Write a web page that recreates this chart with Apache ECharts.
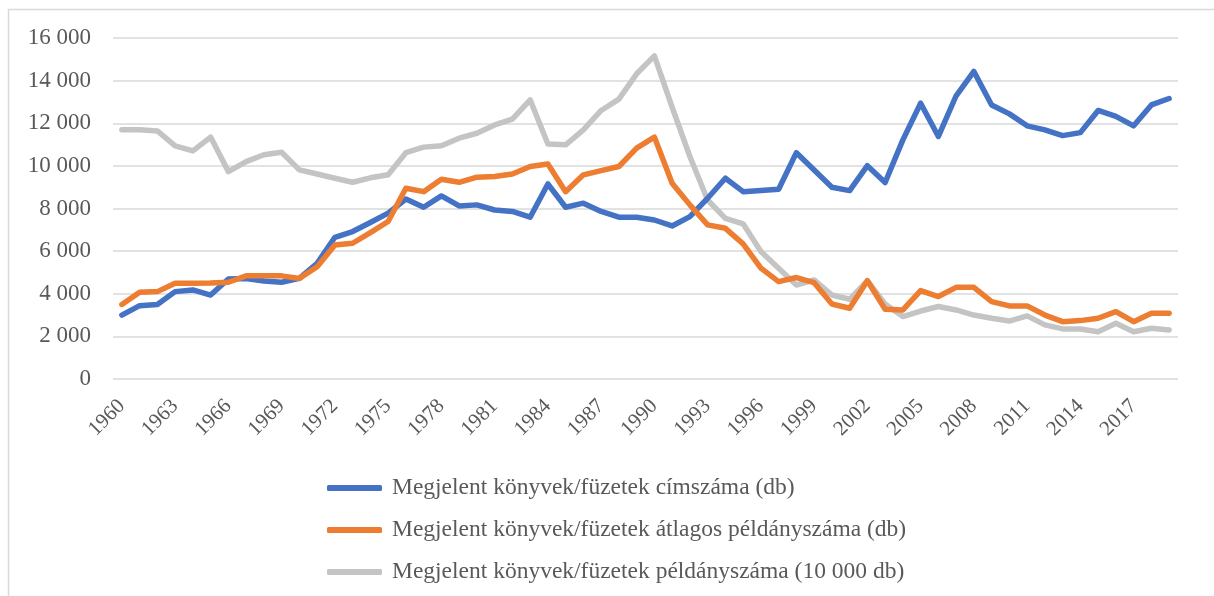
<!DOCTYPE html>
<html>
<head>
<meta charset="utf-8">
<script src="https://cdn.jsdelivr.net/npm/echarts@6/dist/echarts.min.js"></script>
<style>
  html, body { margin: 0; padding: 0; background: #fff; }
  #chart { width: 1214px; height: 596px; }
</style>
</head>
<body>
<div id="chart"></div>
<script>
// years 1960..2019
var years = [];
for (let y = 1960; y <= 2019; y++) { years.push(String(y)); }

// title counts (db)
var cimszam = [
  3000, 3440, 3500, 4100, 4180, 3940, 4690, 4720, 4600, 4540,
  4720, 5430, 6650, 6920, 7340, 7780, 8440, 8060, 8590, 8120,
  8170, 7930, 7860, 7590, 9150, 8060, 8250, 7860, 7590, 7590,
  7460, 7180, 7620, 8480, 9420, 8790, 8840, 8900, 10620, 9810,
  9000, 8840, 10010, 9220, 11220, 12940, 11380, 13290, 14430, 12860,
  12440, 11880, 11690, 11420, 11560, 12600, 12320, 11880, 12860, 13160
];
// average copies per title (db)
var atlagos = [
  3500, 4070, 4100, 4490, 4490, 4500, 4540, 4840, 4840, 4840,
  4720, 5270, 6290, 6370, 6870, 7390, 8950, 8790, 9370, 9230,
  9470, 9500, 9620, 9970, 10090, 8790, 9580, 9780, 9970, 10830,
  11350, 9190, 8170, 7230, 7070, 6340, 5200, 4570, 4760, 4520,
  3520, 3320, 4610, 3270, 3240, 4150, 3870, 4300, 4300, 3630,
  3430, 3430, 3000, 2690, 2740, 2850, 3160, 2690, 3080, 3080
];
// total copies (10 000 db)
var peldany = [
  11690, 11690, 11640, 10940, 10700, 11350, 9730, 10200, 10520, 10640,
  9810, 9620, 9420, 9230, 9440, 9580, 10620, 10880, 10940, 11300,
  11530, 11920, 12190, 13100, 11030, 10990, 11690, 12600, 13130, 14320,
  15160, 12750, 10440, 8400, 7540, 7280, 5980, 5200, 4410, 4650,
  3940, 3740, 4610, 3520, 2930, 3190, 3400, 3240, 3000, 2850,
  2720, 2960, 2540, 2350, 2350, 2220, 2620, 2220, 2380, 2300
];

var names = [
  'Megjelent könyvek/füzetek címszáma (db)',
  'Megjelent könyvek/füzetek átlagos példányszáma (db)',
  'Megjelent könyvek/füzetek példányszáma (10 000 db)'
];
var colors = ['#4472C4', '#ED7D31', '#C4C4C4'];

var font = '"Liberation Serif", "Times New Roman", serif';

function fmt(v) {
    // thousands separated with a space
    return String(v).replace(/\B(?=(\d{3})+(?!\d))/g, ' ');
}

var chart = echarts.init(document.getElementById('chart'));

var option = {
    animation: false,
    color: colors,
    textStyle: { fontFamily: font },
    graphic: [{
        type: 'rect',
        shape: { x: 8.5, y: 9.5, width: 1400, height: 800 },
        style: { fill: 'none', stroke: '#d9d9d9', lineWidth: 1.5 },
        silent: true
    }],
    grid: { left: 113, right: 36, top: 38, bottom: 217 },
    xAxis: {
        type: 'category',
        data: years,
        boundaryGap: true,
        axisLine: { show: false },
        axisTick: { show: false },
        axisLabel: {
            interval: 2,
            rotate: 45,
            color: '#595959',
            fontSize: 21,
            fontFamily: font,
            margin: 24
        }
    },
    yAxis: {
        type: 'value',
        min: 0,
        max: 16000,
        interval: 2000,
        axisLine: { show: false },
        axisTick: { show: false },
        axisLabel: {
            color: '#595959',
            fontSize: 23,
            fontFamily: font,
            margin: 22,
            formatter: fmt
        },
        splitLine: { lineStyle: { color: '#d9d9d9', width: 1.5 } }
    },
    legend: {
        orient: 'vertical',
        left: 322,
        top: 471,
        itemWidth: 55,
        itemHeight: 6,
        itemGap: 18,
        icon: 'roundRect',
        textStyle: { color: '#595959', fontSize: 23.5, fontFamily: font, padding: [0, 0, 0, 5] },
        data: names
    },
    series: [
        { name: names[0], type: 'line', data: cimszam, showSymbol: false,
          lineStyle: { width: 5.5, cap: 'round', join: 'round' } },
        { name: names[1], type: 'line', data: atlagos, showSymbol: false,
          lineStyle: { width: 5.5, cap: 'round', join: 'round' } },
        { name: names[2], type: 'line', data: peldany, showSymbol: false, z: 1,
          lineStyle: { width: 5.5, cap: 'round', join: 'round' } }
    ]
};

chart.setOption(option);
</script>
</body>
</html>
